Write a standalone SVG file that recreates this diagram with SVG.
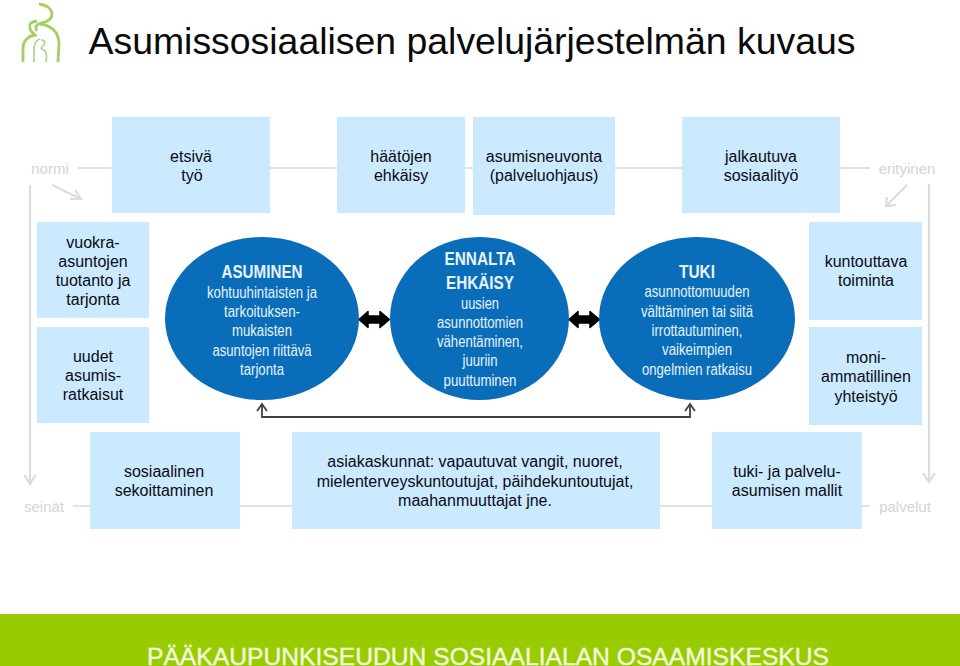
<svg xmlns="http://www.w3.org/2000/svg" width="960" height="666" viewBox="0 0 960 666">
<style>
text{font-family:"Liberation Sans",Arial,sans-serif;text-anchor:middle}
.box{fill:#cceaff}
.t{font-size:16px;fill:#0a0a14}
.g{font-size:15px;fill:#d4d4d4}
.c{fill:#0a6dba}
.w{font-size:16px;fill:#e6f3fb}
.h{font-size:18px;font-weight:bold;fill:#e6f3fb}
.l{stroke:#e2e2e2;stroke-width:2;fill:none}
.a{stroke:#dcdcdc;stroke-width:2.200;fill:none}
.logo{stroke:#a4cf62;stroke-width:2.800;fill:none}
.logo2{stroke:#b9d68f;stroke-width:1.800;fill:none}
</style>
<rect width="960" height="666" fill="#fff"/>
<g id="logo">
<path class="logo" d="M39 4 C47 5 52 9 52 14 C52 20 46 22 41 23 C37 24 34 27 37 31"/>
<path class="logo" d="M37 21 C30 22 29 24 30 28 C30 31 33 33 35 35 C28 36 23 41 23 48 L23 62"/>
<path class="logo" d="M40 24 C50 25 59 31 59 44 L58 62"/>
<path class="logo2" d="M40 39 C36 40 34 44 34 50 L34 62"/>
<path class="logo2" d="M41 40 C45 40 46 43 43 46 C40 48 41 49 44 50 C47 52 47 56 46 62"/>
</g>
<text x="472" y="54" style="font-size:37px;fill:#0a0a0a" textLength="767" lengthAdjust="spacingAndGlyphs">Asumissosiaalisen palvelujärjestelmän kuvaus</text>
<g id="connectors">
<path class="l" d="M78 168H112M270 168H337M465 168H473M615 168H682M840 168H870"/>
<path class="l" d="M73 506H90M240 506H292M660 506H712M862 506H870"/>
<path class="a" d="M30 185V484M24.500 475L30 484L35.500 475"/>
<path class="a" d="M929 184V482M923 473L929 482L935 473"/>
<path class="a" d="M52 185L81 199M70 199L81 199L75 190"/>
<path class="a" d="M907 185L886 206M887 197L886 206L896 205"/>
<path d="M262 404V417H690V404M257 411L262 404L267 411M685 411L690 404L695 411" fill="none" stroke="#404040" stroke-width="1.800"/>
<path d="M359 319.500L368 311.500V316H380V311.500L389.500 319.500L380 327.500V323H368V327.500Z" fill="#000" stroke="#000" stroke-width="1.500" stroke-linejoin="round"/>
<path d="M569 319.500L578 311.500V316H590V311.500L599.500 319.500L590 327.500V323H578V327.500Z" fill="#000" stroke="#000" stroke-width="1.500" stroke-linejoin="round"/>
</g>
<g id="n-etsiva"><rect class="box" x="112" y="117" width="158" height="96"/><text class="t" x="191" y="162">etsivä</text><text class="t" x="192" y="181">työ</text></g>
<g id="n-haatojen"><rect class="box" x="337" y="117" width="128" height="96"/><text class="t" x="401" y="162">häätöjen</text><text class="t" x="401" y="181">ehkäisy</text></g>
<g id="n-neuvonta"><rect class="box" x="473" y="117" width="142" height="98"/><text class="t" x="544" y="162">asumisneuvonta</text><text class="t" x="544" y="181">(palveluohjaus)</text></g>
<g id="n-jalkautuva"><rect class="box" x="682" y="117" width="158" height="96"/><text class="t" x="761" y="162">jalkautuva</text><text class="t" x="761" y="181">sosiaalityö</text></g>
<g id="n-normi"><text class="g" x="50" y="174">normi</text></g>
<g id="n-erityinen"><text class="g" x="907" y="174">erityinen</text></g>
<g id="n-vuokra"><rect class="box" x="37" y="222" width="112" height="96"/><text class="t" x="93" y="248">vuokra-</text><text class="t" x="93" y="267">asuntojen</text><text class="t" x="93" y="286">tuotanto ja</text><text class="t" x="93" y="305">tarjonta</text></g>
<g id="n-uudet"><rect class="box" x="37" y="327" width="112" height="96"/><text class="t" x="93" y="362">uudet</text><text class="t" x="93" y="381">asumis-</text><text class="t" x="93" y="400">ratkaisut</text></g>
<g id="n-asuminen"><ellipse class="c" cx="262" cy="318.500" rx="97" ry="81.500"/>
<text class="h" x="262" y="278" textLength="81" lengthAdjust="spacingAndGlyphs">ASUMINEN</text>
<text class="w" x="262" y="298" textLength="110" lengthAdjust="spacingAndGlyphs">kohtuuhintaisten ja</text>
<text class="w" x="262" y="317" textLength="76" lengthAdjust="spacingAndGlyphs">tarkoituksen-</text>
<text class="w" x="262" y="336" textLength="60" lengthAdjust="spacingAndGlyphs">mukaisten</text>
<text class="w" x="262" y="356" textLength="99" lengthAdjust="spacingAndGlyphs">asuntojen riittävä</text>
<text class="w" x="262" y="375" textLength="44" lengthAdjust="spacingAndGlyphs">tarjonta</text></g>
<g id="n-ennalta"><ellipse class="c" cx="479.500" cy="318.500" rx="89.500" ry="81.500"/>
<text class="h" x="480" y="265" textLength="71" lengthAdjust="spacingAndGlyphs">ENNALTA</text>
<text class="h" x="480" y="289" textLength="68" lengthAdjust="spacingAndGlyphs">EHKÄISY</text>
<text class="w" x="480" y="309" textLength="38" lengthAdjust="spacingAndGlyphs">uusien</text>
<text class="w" x="480" y="328" textLength="86" lengthAdjust="spacingAndGlyphs">asunnottomien</text>
<text class="w" x="480" y="347" textLength="86" lengthAdjust="spacingAndGlyphs">vähentäminen,</text>
<text class="w" x="480" y="366" textLength="35" lengthAdjust="spacingAndGlyphs">juuriin</text>
<text class="w" x="480" y="386" textLength="73" lengthAdjust="spacingAndGlyphs">puuttuminen</text></g>
<g id="n-tuki"><ellipse class="c" cx="697" cy="318.500" rx="98" ry="81.500"/>
<text class="h" x="697" y="278" textLength="36" lengthAdjust="spacingAndGlyphs">TUKI</text>
<text class="w" x="697" y="297" textLength="105" lengthAdjust="spacingAndGlyphs">asunnottomuuden</text>
<text class="w" x="697" y="317" textLength="112" lengthAdjust="spacingAndGlyphs">välttäminen tai siitä</text>
<text class="w" x="697" y="336" textLength="91" lengthAdjust="spacingAndGlyphs">irrottautuminen,</text>
<text class="w" x="697" y="355" textLength="70" lengthAdjust="spacingAndGlyphs">vaikeimpien</text>
<text class="w" x="697" y="375" textLength="110" lengthAdjust="spacingAndGlyphs">ongelmien ratkaisu</text></g>
<g id="n-kuntouttava"><rect class="box" x="809" y="222" width="113" height="98"/><text class="t" x="866" y="267">kuntouttava</text><text class="t" x="866" y="286">toiminta</text></g>
<g id="n-moni"><rect class="box" x="809" y="327" width="113" height="98"/><text class="t" x="866" y="363">moni-</text><text class="t" x="866" y="382">ammatillinen</text><text class="t" x="866" y="402">yhteistyö</text></g>
<g id="n-sosiaalinen"><rect class="box" x="90" y="432" width="150" height="97"/><text class="t" x="164" y="477">sosiaalinen</text><text class="t" x="164" y="496">sekoittaminen</text></g>
<g id="n-asiakas"><rect class="box" x="292" y="432" width="368" height="97"/><text class="t" x="475" y="467">asiakaskunnat: vapautuvat vangit, nuoret,</text><text class="t" x="475" y="487">mielenterveyskuntoutujat, päihdekuntoutujat,</text><text class="t" x="475" y="506">maahanmuuttajat jne.</text></g>
<g id="n-tuki-malli"><rect class="box" x="712" y="432" width="150" height="97"/><text class="t" x="787" y="477">tuki- ja palvelu-</text><text class="t" x="787" y="496">asumisen mallit</text></g>
<g id="n-seinat"><text class="g" x="44" y="512">seinät</text></g>
<g id="n-palvelut"><text class="g" x="905" y="512">palvelut</text></g>
<g id="footer"><rect x="0" y="614" width="960" height="52" fill="#99cc00"/><text x="488" y="665" style="font-size:24px;fill:#f2f9df;stroke:#f2f9df;stroke-width:.4" textLength="682" lengthAdjust="spacingAndGlyphs">PÄÄKAUPUNKISEUDUN SOSIAALIALAN OSAAMISKESKUS</text></g>
</svg>
